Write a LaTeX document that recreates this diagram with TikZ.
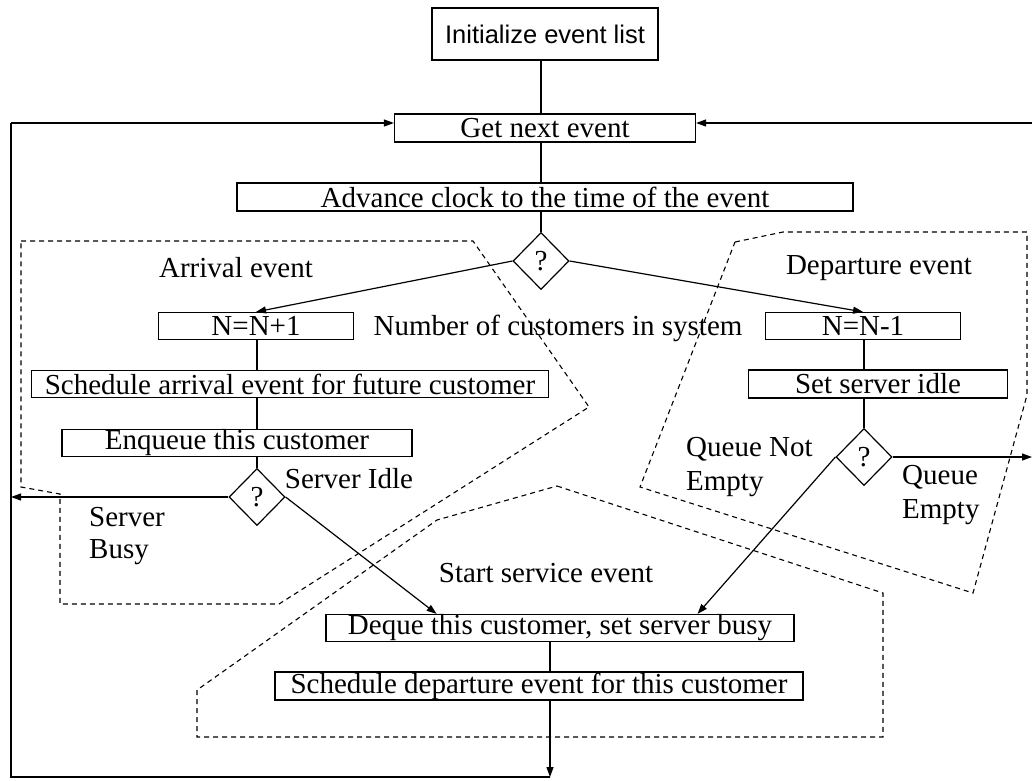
\documentclass[tikz,border=0pt]{standalone}
\usepackage{fontspec}
\setmainfont{Liberation Serif}
\newfontfamily\arialfont{Liberation Sans}
\usetikzlibrary{shapes.geometric,arrows.meta,calc}
\begin{document}
\begin{tikzpicture}[x=1pt,y=-1pt,
 box/.style={draw,line width=1.2pt,inner sep=0pt,font=\fontsize{29}{33}\selectfont},
 dia/.style={draw,diamond,line width=1.2pt,minimum width=56pt,minimum height=57pt,inner sep=0pt,font=\fontsize{29}{33}\selectfont},
 lbl/.style={inner sep=0pt,font=\fontsize{29}{33}\selectfont},
 conn/.style={line width=1.2pt},
 arr/.style={conn,-{Triangle[length=10pt,width=7pt]}},
 region/.style={line width=1.1pt,dash pattern=on 5pt off 4pt}]
\useasboundingbox (0,0) rectangle (1032,780);
\fill[white] (0,0) rectangle (1032,780);

% dashed regions
\draw[region] (21,241) -- (473,241) -- (589,407) -- (279,604) -- (60,604) -- (60,494) -- (21,487) -- cycle;
\draw[region] (735,242) -- (783,232) -- (1027,232) -- (1027,395) -- (973,593) -- (640,487) -- cycle;
\draw[region] (557,486) -- (883,593) -- (883,737) -- (197,737) -- (197,690) -- (437,520) -- cycle;

% boxes
\node[box,minimum width=226pt,minimum height=52pt,font=\arialfont\fontsize{25.5}{30}\selectfont] (init) at (545,34) {Initialize event list};
\node[box,minimum width=301pt,minimum height=28pt] (get) at (545,128) {Get next event};
\node[box,minimum width=616pt,minimum height=28pt] (adv) at (545,197) {Advance clock to the time of the event};
\node[dia] (q1) at (541,261) {?};
\node[box,minimum width=195pt,minimum height=27pt] (n1) at (256,326) {N=N+1};
\node[box,minimum width=517pt,minimum height=27pt] (sa) at (290,384) {Schedule arrival event for future customer};
\node[box,minimum width=350pt,minimum height=27pt] (enq) at (237,443) {Enqueue this customer};
\node[dia] (q2) at (257,497) {?};
\node[box,minimum width=195pt,minimum height=27pt] (n2) at (863,326) {N=N-1};
\node[box,minimum width=259pt,minimum height=28pt] (ssi) at (878,384) {Set server idle};
\node[dia] (q3) at (864,457) {?};
\node[box,minimum width=468pt,minimum height=27pt] (dq) at (560,628) {Deque this customer, set server busy};
\node[box,minimum width=528pt,minimum height=28pt] (sd) at (539,686) {Schedule departure event for this customer};

% labels
\node[lbl] (larr) at (236,268) {Arrival event};
\node[lbl] (ldep) at (879,268) {Departure event};
\node[lbl] (lnum) at (558,328) {Number of customers in system};
\node[lbl] (lidle) at (349,479) {Server Idle};
\node[lbl,align=left,anchor=west] (lbusy) at (89,536) {Server\\[-1pt]Busy};
\node[lbl,align=left,anchor=west] (lqne) at (686,467) {Queue Not\\[1pt]Empty};
\node[lbl,align=left,anchor=west] (lqe) at (902,495) {Queue\\[1pt]Empty};
\node[lbl] (lss) at (546,573) {Start service event};

% loop coordinates
\coordinate (tl) at (11,123);
\coordinate (tr) at (1032,123);
\coordinate (bot) at (550,777);
\coordinate (bl) at (11,777);
\coordinate (qe) at (1032,457);

% connectors
\draw[conn] (init.south -| q1) -- (get.north -| q1);
\draw[conn] (get.south -| q1) -- (adv.north -| q1);
\draw[conn] (adv.south -| q1) -- (q1.north);
\draw[arr] (q1.west) -- (n1.north);
\draw[arr] (q1.east) -- (n2.north);
\draw[conn] (n1.south -| q2) -- (sa.north -| q2);
\draw[conn] (sa.south -| q2) -- (enq.north -| q2);
\draw[conn] (enq.south -| q2) -- (q2.north);
\draw[arr] (q2.west) -- (q2.west -| tl);
\draw[arr] (q2.east) -- ($(dq.north west)!0.237!(dq.north east)$);
\draw[conn] (n2.south -| q3) -- (ssi.north -| q3);
\draw[conn] (ssi.south -| q3) -- (q3.north);
\draw[arr] (q3.west) -- ($(dq.north west)!0.793!(dq.north east)$);
\draw[arr] (q3.east) -- (qe);
\draw[conn] (dq.south -| bot) -- (sd.north -| bot);
\draw[arr] (sd.south -| bot) -- (bot);
\draw[conn] (bot) -- (bl) -- (tl);
\draw[arr] (tl) -- (get.west |- tl);
\draw[arr] (tr) -- (get.east |- tr);
\end{tikzpicture}
\end{document}
